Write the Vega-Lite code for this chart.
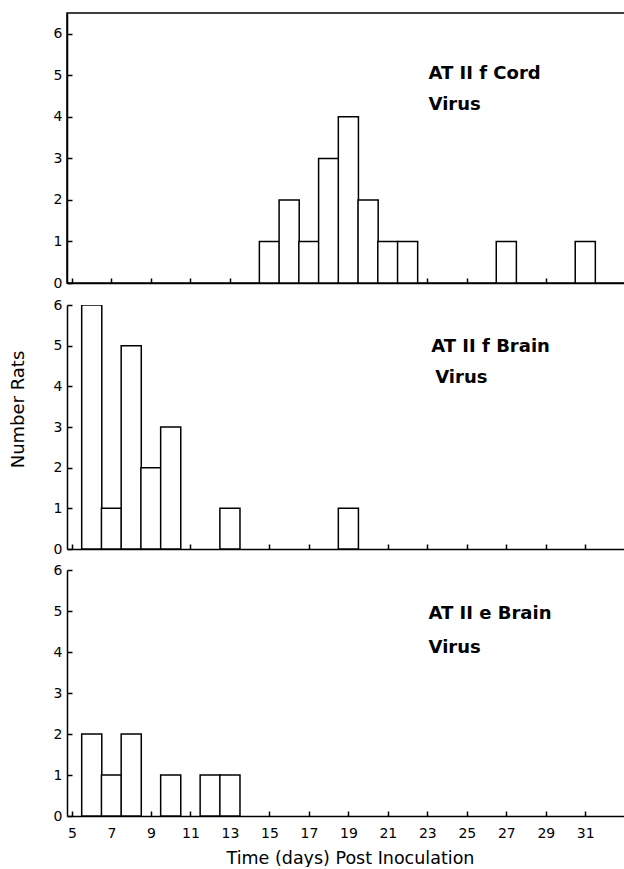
{
  "$schema": "https://vega.github.io/schema/vega-lite/v6.json",
  "background": "white",
  "padding": {"left": 9, "top": 12, "right": 0, "bottom": 0},
  "spacing": 7,
  "config": {
    "font": "DejaVu Sans",
    "view": {"stroke": null},
    "axis": {
      "domainColor": "black", "domainWidth": 1.5, "tickColor": "black", "tickWidth": 1.5,
      "tickSize": -5, "labelColor": "black", "labelFont": "DejaVu Sans", "labelFontSize": 14,
      "grid": false, "titleColor": "black", "titleFont": "DejaVu Sans", "titleFontWeight": "normal", "titleFontSize": 18
    }
  },
  "datasets": {
    "rats": [
      {"panel": "cord", "day": 15, "count": 1},
      {"panel": "cord", "day": 16, "count": 2},
      {"panel": "cord", "day": 17, "count": 1},
      {"panel": "cord", "day": 18, "count": 3},
      {"panel": "cord", "day": 19, "count": 4},
      {"panel": "cord", "day": 20, "count": 2},
      {"panel": "cord", "day": 21, "count": 1},
      {"panel": "cord", "day": 22, "count": 1},
      {"panel": "cord", "day": 27, "count": 1},
      {"panel": "cord", "day": 31, "count": 1},
      {"panel": "brainf", "day": 6, "count": 6},
      {"panel": "brainf", "day": 7, "count": 1},
      {"panel": "brainf", "day": 8, "count": 5},
      {"panel": "brainf", "day": 9, "count": 2},
      {"panel": "brainf", "day": 10, "count": 3},
      {"panel": "brainf", "day": 13, "count": 1},
      {"panel": "brainf", "day": 19, "count": 1},
      {"panel": "braine", "day": 6, "count": 2},
      {"panel": "braine", "day": 7, "count": 1},
      {"panel": "braine", "day": 8, "count": 2},
      {"panel": "braine", "day": 10, "count": 1},
      {"panel": "braine", "day": 12, "count": 1},
      {"panel": "braine", "day": 13, "count": 1}
    ]
  },
  "vconcat": [
    {
      "width": 560, "height": 270,
      "view": {"stroke": "black", "strokeWidth": 1.5},
      "layer": [
        {
          "data": {"name": "rats"},
          "transform": [{"filter": "datum.panel == 'cord'"}],
          "mark": {"type": "bar", "width": 20.1, "fill": "white", "stroke": "black", "strokeWidth": 1.5, "clip": true},
          "encoding": {
            "x": {"field": "day", "type": "quantitative", "scale": {"domain": [5, 32.86], "nice": false, "zero": false},
                  "axis": {"title": null, "labels": false, "values": [5,6,7,8,9,10,11,12,13,14,15,16,17,18,19,20,21,22,23,24,25,26,27,28,29,30,31]}},
            "y": {"field": "count", "type": "quantitative", "scale": {"domain": [0, 6.5], "nice": false},
                  "axis": {"title": null, "values": [0,1,2,3,4,5,6], "labelPadding": 10}}
          }
        },
        {
          "data": {"values": [{}]},
          "mark": {"type": "text", "align": "left", "baseline": "alphabetic", "font": "DejaVu Sans", "fontWeight": "bold", "fontSize": 18, "color": "black"},
          "encoding": {"x": {"datum": 23.06, "type": "quantitative"}, "y": {"datum": 4.91, "type": "quantitative"}, "text": {"value": "AT II f Cord"}}
        },
        {
          "data": {"values": [{}]},
          "mark": {"type": "text", "align": "left", "baseline": "alphabetic", "font": "DejaVu Sans", "fontWeight": "bold", "fontSize": 18, "color": "black"},
          "encoding": {"x": {"datum": 23.06, "type": "quantitative"}, "y": {"datum": 4.16, "type": "quantitative"}, "text": {"value": "Virus"}}
        }
      ]
    },
    {
      "width": 560, "height": 244,
      "layer": [
        {
          "data": {"name": "rats"},
          "transform": [{"filter": "datum.panel == 'brainf'"}],
          "mark": {"type": "bar", "width": 20.1, "fill": "white", "stroke": "black", "strokeWidth": 1.5, "clip": true},
          "encoding": {
            "x": {"field": "day", "type": "quantitative", "scale": {"domain": [5, 32.86], "nice": false, "zero": false},
                  "axis": {"title": null, "labels": false, "values": [5,6,7,8,9,10,11,12,13,14,15,16,17,18,19,20,21,22,23,24,25,26,27,28,29,30,31]}},
            "y": {"field": "count", "type": "quantitative", "scale": {"domain": [0, 6], "nice": false},
                  "axis": {"title": "Number Rats", "values": [0,1,2,3,4,5,6], "labelPadding": 10, "titleX": -40, "titleY": 104}}
          }
        },
        {
          "data": {"values": [{}]},
          "mark": {"type": "text", "align": "left", "baseline": "alphabetic", "font": "DejaVu Sans", "fontWeight": "bold", "fontSize": 18, "color": "black"},
          "encoding": {"x": {"datum": 23.2, "type": "quantitative"}, "y": {"datum": 4.84, "type": "quantitative"}, "text": {"value": "AT II f Brain"}}
        },
        {
          "data": {"values": [{}]},
          "mark": {"type": "text", "align": "left", "baseline": "alphabetic", "font": "DejaVu Sans", "fontWeight": "bold", "fontSize": 18, "color": "black"},
          "encoding": {"x": {"datum": 23.4, "type": "quantitative"}, "y": {"datum": 4.08, "type": "quantitative"}, "text": {"value": "Virus"}}
        }
      ]
    },
    {
      "width": 560, "height": 246,
      "layer": [
        {
          "data": {"name": "rats"},
          "transform": [{"filter": "datum.panel == 'braine'"}],
          "mark": {"type": "bar", "width": 20.1, "fill": "white", "stroke": "black", "strokeWidth": 1.5, "clip": true},
          "encoding": {
            "x": {"field": "day", "type": "quantitative", "scale": {"domain": [5, 32.86], "nice": false, "zero": false},
                  "axis": {"title": "Time (days) Post Inoculation", "titleFontSize": 17.5, "labelPadding": 15, "labelBaseline": "top",
                           "values": [5,6,7,8,9,10,11,12,13,14,15,16,17,18,19,20,21,22,23,24,25,26,27,28,29,30,31],
                           "labelExpr": "datum.value % 2 == 1 ? datum.label : ''", "labelOverlap": false,
                           "titleBaseline": "alphabetic", "titleY": 47, "titleX": 283}},
            "y": {"field": "count", "type": "quantitative", "scale": {"domain": [0, 6], "nice": false},
                  "axis": {"title": null, "values": [0,1,2,3,4,5,6], "labelPadding": 10}}
          }
        },
        {
          "data": {"values": [{}]},
          "mark": {"type": "text", "align": "left", "baseline": "alphabetic", "font": "DejaVu Sans", "fontWeight": "bold", "fontSize": 18, "color": "black"},
          "encoding": {"x": {"datum": 23.06, "type": "quantitative"}, "y": {"datum": 4.8, "type": "quantitative"}, "text": {"value": "AT II e Brain"}}
        },
        {
          "data": {"values": [{}]},
          "mark": {"type": "text", "align": "left", "baseline": "alphabetic", "font": "DejaVu Sans", "fontWeight": "bold", "fontSize": 18, "color": "black"},
          "encoding": {"x": {"datum": 23.06, "type": "quantitative"}, "y": {"datum": 3.97, "type": "quantitative"}, "text": {"value": "Virus"}}
        }
      ]
    }
  ]
}
